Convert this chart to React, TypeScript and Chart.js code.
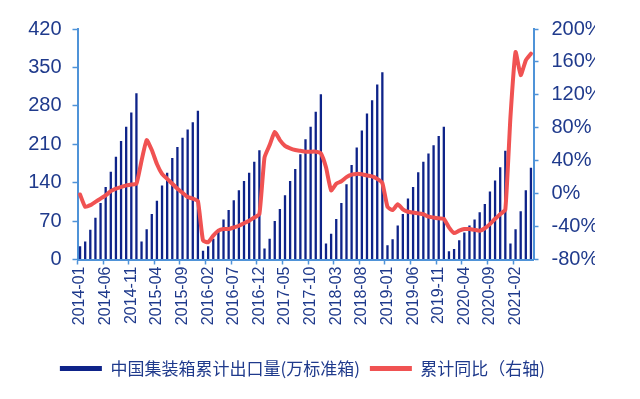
import React, { useEffect, useRef } from 'react';
import { Chart, registerables } from 'chart.js';

Chart.register(...registerables);

const months: string[] = [
  '2014-01','2014-02','2014-03','2014-04','2014-05','2014-06','2014-07','2014-08','2014-09','2014-10','2014-11','2014-12',
  '2015-01','2015-02','2015-03','2015-04','2015-05','2015-06','2015-07','2015-08','2015-09','2015-10','2015-11','2015-12',
  '2016-01','2016-02','2016-03','2016-04','2016-05','2016-06','2016-07','2016-08','2016-09','2016-10','2016-11','2016-12',
  '2017-01','2017-02','2017-03','2017-04','2017-05','2017-06','2017-07','2017-08','2017-09','2017-10','2017-11','2017-12',
  '2018-01','2018-02','2018-03','2018-04','2018-05','2018-06','2018-07','2018-08','2018-09','2018-10','2018-11','2018-12',
  '2019-01','2019-02','2019-03','2019-04','2019-05','2019-06','2019-07','2019-08','2019-09','2019-10','2019-11','2019-12',
  '2020-01','2020-02','2020-03','2020-04','2020-05','2020-06','2020-07','2020-08','2020-09','2020-10','2020-11','2020-12',
  '2021-01','2021-02','2021-03','2021-04','2021-05',
];

// 中国集装箱累计出口量(万标准箱)
const exportVolume: number[] = [
  24, 33, 54, 76, 103, 132, 160, 187, 216, 242, 268, 303,
  33, 55, 83, 107, 135, 158, 185, 205, 222, 237, 250, 271,
  16, 24, 38, 55, 73, 90, 108, 126, 143, 158, 178, 199,
  20, 38, 70, 92, 117, 143, 165, 192, 219, 242, 269, 301,
  29, 47, 74, 103, 137, 172, 204, 235, 266, 290, 319, 341,
  26, 37, 62, 83, 111, 132, 159, 178, 193, 208, 225, 242,
  15, 19, 35, 49, 62, 73, 86, 101, 124, 144, 168, 198,
  29, 55, 88, 126, 167,
];

// 累计同比 (%)
const yoyPct: number[] = [
  -1, -16, -14, -10, -6, -2, 3, 6, 8, 10, 11, 12,
  40, 65, 53, 36, 24, 18, 12, 6, 1, -4, -6, -9,
  -57, -59, -51, -45, -43, -43, -41, -39, -36, -33, -29, -25,
  44, 59, 75, 65, 58, 55, 53, 52, 51, 51, 51, 49,
  32, 4, 12, 15, 20, 23, 24, 23.5, 22, 21, 18, 13,
  -16, -20, -13, -19, -22, -23, -24, -25, -28, -29, -30, -30.5,
  -41, -48, -45, -43, -43, -44, -45, -42, -37, -30.5, -25, -19.5,
  93, 172, 144, 162, 170,
];

const barLabel = '中国集装箱累计出口量(万标准箱)';
const lineLabel = '累计同比（右轴)';

const NAVY = '#0E2389';
const RED = '#F05252';
const AXIS = '#4F93D8';
const TEXT = '#1F3A8C';

export default function App() {
  const ref = useRef<HTMLCanvasElement | null>(null);

  useEffect(() => {
    if (!ref.current) return;
    const chart = new Chart(ref.current, {
      type: 'bar',
      data: {
        labels: months,
        datasets: [
          {
            type: 'bar',
            label: barLabel,
            data: exportVolume,
            backgroundColor: NAVY,
            borderWidth: 0,
            barPercentage: 0.45,
            categoryPercentage: 1,
            yAxisID: 'y',
            order: 2,
          },
          {
            type: 'line',
            label: lineLabel,
            data: yoyPct,
            borderColor: RED,
            backgroundColor: RED,
            borderWidth: 4,
            pointRadius: 0,
            tension: 0.15,
            borderJoinStyle: 'round',
            borderCapStyle: 'round',
            yAxisID: 'y1',
            order: 1,
          },
        ],
      },
      options: {
        responsive: false,
        animation: false,
        devicePixelRatio: 1,
        layout: { padding: { left: 10, right: 45, top: 29, bottom: 12 } },
        plugins: {
          tooltip: { enabled: false },
          legend: {
            position: 'bottom',
            align: 'center',
            labels: {
              boxWidth: 42,
              boxHeight: 5,
              padding: 10,
              color: TEXT,
              font: { family: '"Noto Sans CJK SC", sans-serif', size: 17 },
              generateLabels: (c: any) =>
                c.data.datasets.map((ds: any, i: number) => ({
                  text: ds.label,
                  fillStyle: i === 0 ? NAVY : RED,
                  strokeStyle: 'rgba(0,0,0,0)',
                  lineWidth: 0,
                  hidden: false,
                  datasetIndex: i,
                  fontColor: TEXT,
                })),
            },
          },
        },
        scales: {
          x: {
            offset: true,
            grid: {
              offset: true,
              drawOnChartArea: false,
              drawTicks: true,
              tickLength: 5,
              tickWidth: 1.5,
              tickColor: (ctx: any) => (ctx.index % 5 === 0 ? AXIS : 'rgba(0,0,0,0)'),
            },
            border: { display: true, color: AXIS, width: 2 },
            ticks: {
              autoSkip: false,
              minRotation: 90,
              maxRotation: 90,
              padding: 2,
              color: TEXT,
              font: { family: '"Liberation Sans", Arial, sans-serif', size: 16 },
              callback: (_v: any, i: number) => (i % 5 === 0 ? months[i] : ''),
            },
            afterFit: (s: any) => { s.height = 90.5; },
          },
          y: {
            position: 'left',
            min: 0,
            max: 420,
            grid: { drawOnChartArea: false, tickLength: 5, tickWidth: 1.5, tickColor: AXIS },
            border: { display: true, color: AXIS, width: 2 },
            ticks: {
              stepSize: 70,
              padding: 11,
              color: TEXT,
              font: { family: '"Liberation Sans", Arial, sans-serif', size: 20 },
            },
            afterFit: (s: any) => { s.width = 67.5; },
          },
          y1: {
            position: 'right',
            min: -80,
            max: 200,
            grid: { drawOnChartArea: false, tickLength: 5, tickWidth: 1.5, tickColor: AXIS },
            border: { display: true, color: AXIS, width: 2 },
            ticks: {
              stepSize: 40,
              padding: 13,
              color: TEXT,
              font: { family: '"Liberation Sans", Arial, sans-serif', size: 20 },
              callback: (v: any) => `${v}%`,
            },
            afterFit: (s: any) => { s.width = 61.5; },
          },
        },
      },
    });
    return () => chart.destroy();
  }, []);

  return (
    <div style={{ position: 'absolute', left: 0, top: 0, width: 640, height: 399, background: '#fff' }}>
      <canvas ref={ref} width={640} height={399} />
    </div>
  );
}
